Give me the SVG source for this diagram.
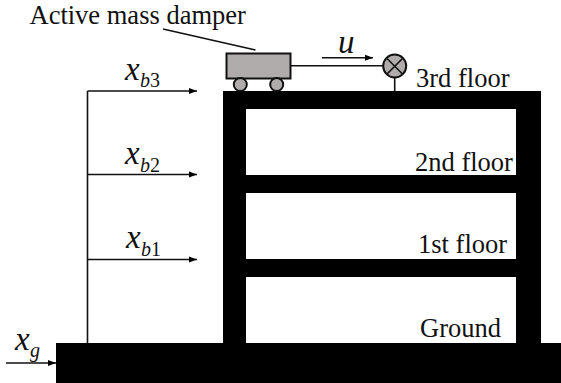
<svg xmlns="http://www.w3.org/2000/svg" width="561" height="383" viewBox="0 0 561 383">
<defs>
<marker id="a" markerUnits="userSpaceOnUse" markerWidth="8" markerHeight="8" refX="8" refY="4" orient="auto"><path d="M0,1 L8,4 L0,7 Z" fill="#000"/></marker>
</defs>
<style>
text{font-family:"Liberation Serif","Times New Roman",serif;fill:#111}
.l{font-size:26.500px}
.v{font-size:33px;font-style:italic}
.s{font-size:20px;font-style:italic}
.n{font-style:normal}
.c{stroke:#111;stroke-width:1.6;fill:none}
.g{fill:#b0acac;stroke:#111;stroke-width:2}
.b{fill:#000}
</style>
<g id="building">
<rect class="b" x="223" y="91" width="318" height="18"/>
<rect class="b" x="223" y="91" width="23" height="252"/>
<rect class="b" x="516" y="91" width="25" height="252"/>
<rect class="b" x="223" y="175" width="318" height="18"/>
<rect class="b" x="223" y="259" width="318" height="18"/>
</g>
<g id="ground"><rect class="b" x="56" y="343" width="505" height="40"/></g>
<g id="damper">
<rect class="g" x="226.500" y="53.500" width="64" height="25"/>
<circle class="g" cx="240.300" cy="84.500" r="6.500"/>
<circle class="g" cx="276.700" cy="84.500" r="6.500"/>
</g>
<g id="actuator">
<circle class="g" cx="394.700" cy="66" r="11.500"/>
<path class="c" d="M387,58.500 L402.500,74 M402.500,58.500 L387,74"/>
</g>
<g id="connectors">
<path class="c" d="M163,29 L255.500,50"/>
<path class="c" d="M291,65.700 H384"/>
<path class="c" d="M394.700,77 V91"/>
<path class="c" marker-end="url(#a)" d="M322,57.700 H373"/>
<path class="c" d="M87.500,343 V91"/>
<path class="c" marker-end="url(#a)" d="M87.500,91 H197"/>
<path class="c" marker-end="url(#a)" d="M87.500,174.500 H197"/>
<path class="c" marker-end="url(#a)" d="M87.500,259.500 H197"/>
<path class="c" marker-end="url(#a)" d="M6,363 H56"/>
</g>
<g id="labels">
<text class="l" x="29.500" y="24">Active mass damper</text>
<text class="v" x="338" y="53">u</text>
<text class="l" x="416" y="87">3rd floor</text>
<text class="l" x="415" y="171">2nd floor</text>
<text class="l" x="418" y="253">1st floor</text>
<text class="l" x="420" y="337">Ground</text>
<text class="v" x="125" y="80">x</text><text class="s" x="140" y="87">b<tspan class="n">3</tspan></text>
<text class="v" x="125" y="164">x</text><text class="s" x="140" y="172">b<tspan class="n">2</tspan></text>
<text class="v" x="126" y="248">x</text><text class="s" x="141" y="256">b<tspan class="n">1</tspan></text>
<text class="v" x="15" y="350">x</text><text class="s" x="30" y="357">g</text>
</g>
</svg>
